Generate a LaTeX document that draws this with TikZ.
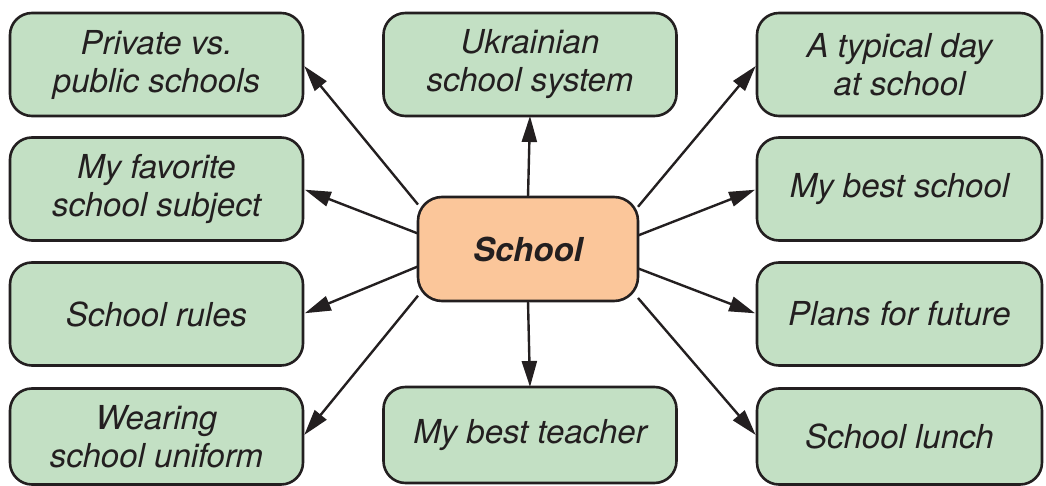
\documentclass[tikz,border=0pt]{standalone}
\usepackage{fontspec}
\setmainfont{TeX Gyre Heros}
\usetikzlibrary{backgrounds}
\usetikzlibrary{arrows.meta}
\definecolor{topicgreen}{RGB}{195,224,196}
\definecolor{hubpeach}{RGB}{251,198,154}
\definecolor{inkdark}{RGB}{35,31,32}
\newcommand{\tpcw}{146.5pt}
\newcommand{\tpcwr}{142.5pt}
\newcommand{\tpch}{51.5pt}
\newcommand{\tpchl}{48pt}
\newcommand{\hubw}{110pt}
\newcommand{\hubh}{52pt}
\newcommand{\colxa}{156.5}
\newcommand{\colxb}{530}
\newcommand{\colxc}{899.5}
\newcommand{\hubx}{528}
\newcommand{\huby}{249}
\newcommand{\rowya}{64.5}
\newcommand{\rowyb}{189}
\newcommand{\rowyc}{314}
\newcommand{\rowyd}{436.5}
\newcommand{\rowydc}{435}
\tikzset{
  topic/.style={draw=inkdark, line width=1.3pt, fill=topicgreen,
    rounded corners=11pt, minimum width=\tpcw, minimum height=\tpch,
    align=center, text=inkdark, inner sep=0pt, outer sep=0pt,
    font={\fontsize{16.5}{19}\selectfont\itshape}},
  hub/.style={topic, fill=hubpeach, minimum width=\hubw,
    minimum height=\hubh, rounded corners=12pt,
    font={\fontsize{16.5}{19}\selectfont\bfseries\itshape}},
  spoke/.style={draw=inkdark, line width=1.2pt,
    -{Triangle[length=13pt,width=7.5pt]}, shorten >=1pt}
}

\begin{document}
\begin{tikzpicture}[x=0.5pt,y=-0.5pt]
    \useasboundingbox (0,0) rectangle (1046,486);

    \node[hub] (school) at (\hubx, \huby) {School};

    \node[topic] (prvpub) at (\colxa, \rowya) {Private vs.\\public schools};
    \node[topic] (favsubj) at (\colxa, \rowyb) {My favorite\\school subject};
    \node[topic] (rules) at (\colxa, \rowyc) {School rules};
    \node[topic, minimum height=\tpchl] (uniform) at (\colxa, \rowyd)
      {Wearing\\school uniform};

    \node[topic] (ukrsys) at (\colxb, \rowya) {Ukrainian\\school system};
    \node[topic, minimum height=\tpchl] (teacher) at (\colxb, \rowydc)
      {My best teacher};

    \node[topic, minimum width=\tpcwr] (typday) at (\colxc, \rowya)
      {A typical day\\at school};
    \node[topic, minimum width=\tpcwr] (bestsch) at (\colxc, \rowyb)
      {My best school};
    \node[topic, minimum width=\tpcwr] (plans) at (\colxc, \rowyc)
      {Plans for future};
    \node[topic, minimum width=\tpcwr, minimum height=\tpchl] (lunch)
      at (\colxc, \rowyd) {School lunch};

    \begin{scope}[on background layer]
      \draw[spoke] (school.158.6) -- (prvpub.east);
      \draw[spoke] (school.172.2) -- (favsubj.east);
      \draw[spoke] (school.189.8) -- (rules.east);
      \draw[spoke] (school.203.7) -- (uniform.east);
      \draw[spoke, shorten >=0pt] (school.north) -- (ukrsys.south);
      \draw[spoke, shorten >=0pt] (school.south) -- (teacher.north);
      \draw[spoke] (school.21.4) -- (typday.west);
      \draw[spoke] (school.7.8) -- (bestsch.west);
      \draw[spoke] (school.350.2) -- (plans.west);
      \draw[spoke] (school.336.3) -- (lunch.west);
    \end{scope}
  \end{tikzpicture}
\end{document}
